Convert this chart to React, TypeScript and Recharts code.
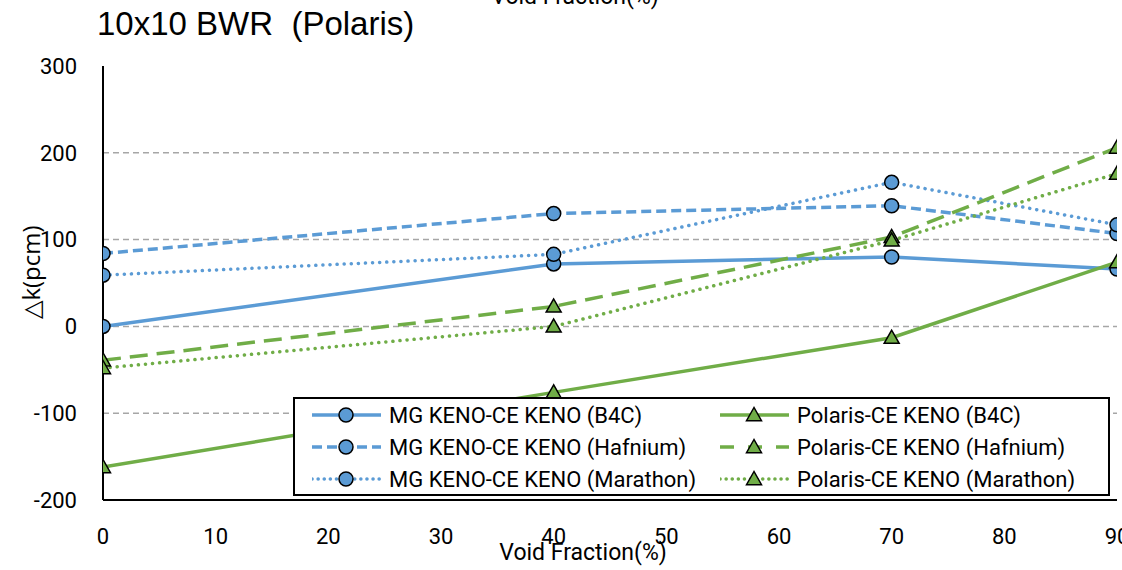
import React from 'react';
import {
  LineChart,
  Line,
  XAxis,
  YAxis,
  CartesianGrid,
} from 'recharts';

const voidFraction = [0, 40, 70, 90];
const mgB4C = [0, 72, 80, 66];
const mgHafnium = [84, 130, 139, 107];
const mgMarathon = [59, 83, 166, 117];
const polB4C = [-162, -76, -13, 74];
const polHafnium = [-39, 23, 103, 206];
const polMarathon = [-48, 0, 99, 176];

const xTicks = [0, 10, 20, 30, 40, 50, 60, 70, 80, 90];
const yTicks = [-200, -100, 0, 100, 200, 300];

const BLUE = '#5B9BD5';
const GREEN = '#70AD47';
const FONT = 'Roboto, "Open Sans", sans-serif';

const data = voidFraction.map((v, i) => ({
  x: v,
  mgB4C: mgB4C[i],
  mgHafnium: mgHafnium[i],
  mgMarathon: mgMarathon[i],
  polB4C: polB4C[i],
  polHafnium: polHafnium[i],
  polMarathon: polMarathon[i],
}));

type SeriesDef = {
  key: string;
  name: string;
  color: string;
  dash?: string;
  legendDash?: string;
  cap?: 'round' | 'butt';
  marker: 'circle' | 'triangle';
};

const series: SeriesDef[] = [
  { key: 'mgB4C', name: 'MG KENO-CE KENO (B4C)', color: BLUE, marker: 'circle' },
  { key: 'mgHafnium', name: 'MG KENO-CE KENO (Hafnium)', color: BLUE, dash: '10 5', legendDash: '10 5', marker: 'circle' },
  { key: 'mgMarathon', name: 'MG KENO-CE KENO (Marathon)', color: BLUE, dash: '0.1 7', legendDash: '0.1 6', cap: 'round', marker: 'circle' },
  { key: 'polB4C', name: 'Polaris-CE KENO (B4C)', color: GREEN, marker: 'triangle' },
  { key: 'polHafnium', name: 'Polaris-CE KENO (Hafnium)', color: GREEN, dash: '18 9', legendDash: '14 14', marker: 'triangle' },
  { key: 'polMarathon', name: 'Polaris-CE KENO (Marathon)', color: GREEN, dash: '0.1 7', legendDash: '0.1 6', cap: 'round', marker: 'triangle' },
];

const Marker = ({ cx, cy, kind, color }: { cx: number; cy: number; kind: string; color: string }) => {
  if (kind === 'circle') {
    return <circle cx={cx} cy={cy} r={7} fill={color} stroke="#000" strokeWidth={1.5} />;
  }
  const s = 7.5;
  return (
    <polygon
      points={`${cx},${cy - s} ${cx - s},${cy + s * 0.75} ${cx + s},${cy + s * 0.75}`}
      fill={color}
      stroke="#000"
      strokeWidth={1.5}
    />
  );
};

const makeDot = (s: SeriesDef) => (props: any) => {
  const { cx, cy, index } = props;
  if (cx == null || cy == null) return <g key={`${s.key}-${index}`} />;
  return (
    <g key={`${s.key}-${index}`}>
      <Marker cx={cx} cy={cy} kind={s.marker} color={s.color} />
    </g>
  );
};

const LegendItem = ({ s }: { s: SeriesDef }) => (
  <div style={{ display: 'flex', alignItems: 'center', height: 32, whiteSpace: 'nowrap' }}>
    <svg width={70} height={20} style={{ marginRight: 7, flex: 'none' }}>
      <line
        x1={0}
        y1={10}
        x2={69}
        y2={10}
        stroke={s.color}
        strokeWidth={3.5}
        strokeDasharray={s.legendDash}
        strokeLinecap={s.cap || 'butt'}
      />
      <Marker cx={34} cy={10} kind={s.marker} color={s.color} />
    </svg>
    <span>{s.name}</span>
  </div>
);

const ChartLegend = () => {
  const left = series.filter((s) => s.marker === 'circle');
  const right = series.filter((s) => s.marker === 'triangle');
  return (
    <div
      style={{
        position: 'absolute',
        left: 293,
        top: 397,
        border: '2px solid #000',
        background: '#fff',
        width: 817,
        height: 99,
        boxSizing: 'border-box',
        display: 'flex',
        paddingLeft: 17,
        paddingTop: 0,
        fontFamily: FONT,
        fontSize: 22,
        color: '#000',
      }}
    >
      <div style={{ width: 408 }}>
        {left.map((s) => (
          <LegendItem key={s.key} s={s} />
        ))}
      </div>
      <div>
        {right.map((s) => (
          <LegendItem key={s.key} s={s} />
        ))}
      </div>
    </div>
  );
};

const YLabel = () => (
  <text
    x={30}
    y={272}
    transform="rotate(-90, 30, 272)"
    textAnchor="middle"
    dominantBaseline="central"
    fill="#000"
    fontSize={24}
    fontFamily='"Open Sans", sans-serif'
  >
    △k(pcm)
  </text>
);

const XLabel = () => (
  <text x={583} y={560} textAnchor="middle" fill="#000" fontSize={23} fontFamily={FONT}>
    Void Fraction(%)
  </text>
);

export default function App() {
  return (
    <div style={{ position: 'absolute', left: 0, top: 0, width: 1122, height: 570, background: '#fff', overflow: 'hidden' }}>
      <svg width={1122} height={20} style={{ position: 'absolute', left: 0, top: 0 }}>
        <text x={575} y={4} textAnchor="middle" fill="#000" fontSize={23} fontFamily={FONT}>
          Void Fraction(%)
        </text>
      </svg>
      <div
        style={{
          position: 'absolute',
          left: 97,
          top: 5,
          fontFamily: '"Liberation Sans", Arial, sans-serif',
          fontSize: 33,
          color: '#000',
          whiteSpace: 'pre',
        }}
      >
        10x10 BWR  (Polaris)
      </div>
      <LineChart
        width={1122}
        height={570}
        data={data}
        margin={{ top: 66, right: 5, bottom: 30, left: 43 }}
      >
        <CartesianGrid
          horizontal
          vertical={false}
          stroke="#A6A6A6"
          strokeDasharray="6 4"
          strokeWidth={1.5}
          horizontalValues={[-100, 0, 100, 200]}
        />
        <XAxis
          dataKey="x"
          type="number"
          domain={[0, 90]}
          ticks={xTicks}
          tickLine={false}
          axisLine={{ stroke: '#000', strokeWidth: 2 }}
          tickMargin={22}
          height={40}
          interval={0}
          tick={{ fill: '#000', fontSize: 22, fontFamily: FONT }}
          allowDataOverflow
          label={<XLabel />}
        />
        <XAxis
          xAxisId="top"
          orientation="top"
          type="number"
          domain={[0, 90]}
          tick={false}
          tickLine={false}
          height={0}
          axisLine={{ stroke: '#000', strokeWidth: 2 }}
        />
        <YAxis
          type="number"
          domain={[-200, 300]}
          ticks={yTicks}
          tickLine={false}
          axisLine={{ stroke: '#000', strokeWidth: 2 }}
          tickMargin={20}
          width={60}
          interval={0}
          tick={{ fill: '#000', fontSize: 22, fontFamily: FONT }}
          label={<YLabel />}
        />
        <YAxis
          yAxisId="right"
          orientation="right"
          type="number"
          domain={[-200, 300]}
          tick={false}
          tickLine={false}
          width={0}
          axisLine={{ stroke: '#000', strokeWidth: 2 }}
        />
        {series.map((s) => (
          <Line
            key={s.key}
            dataKey={s.key}
            name={s.name}
            stroke={s.color}
            strokeWidth={3.5}
            strokeDasharray={s.dash}
            strokeLinecap={s.cap || 'butt'}
            type="linear"
            dot={makeDot(s)}
            activeDot={false}
            isAnimationActive={false}
          />
        ))}
      </LineChart>
      <ChartLegend />
    </div>
  );
}
